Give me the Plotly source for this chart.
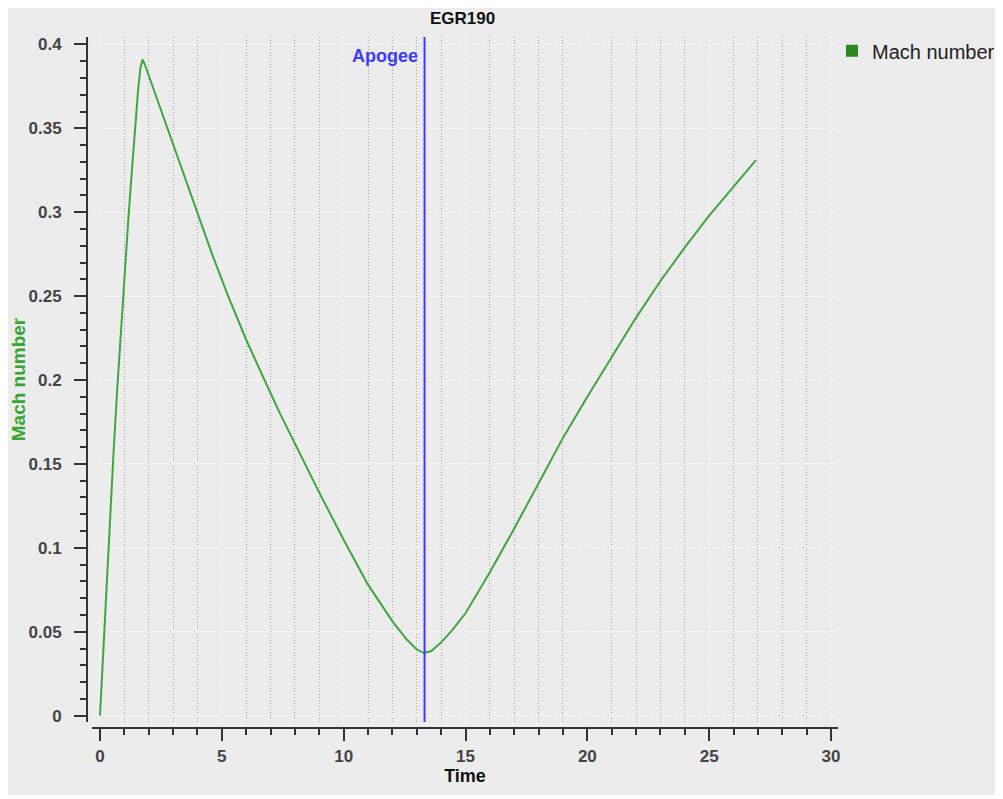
import plotly.graph_objects as go

# Mach number vs time
TIME = [0, 0.1, 0.25, 0.4, 0.55, 0.7, 0.85, 1.0, 1.15, 1.3, 1.45, 1.57, 1.66, 1.745, 1.84,
        2.3, 2.85, 3.4, 3.95, 4.6, 5.26, 6.0, 6.75, 7.39, 7.97, 8.48, 9.03, 10.01, 10.98,
        12.01, 12.58, 13.0, 13.3, 13.6, 13.99, 14.43, 15.0, 16.0, 17.0, 18.0, 19.0, 20.0,
        21.0, 22.0, 23.0, 24.0, 25.0, 26.0, 26.92]
MACH = [0, 0.029, 0.072, 0.114, 0.155, 0.193, 0.228, 0.261, 0.293, 0.323, 0.352, 0.374,
        0.386, 0.391, 0.388,
        0.369, 0.347, 0.324, 0.301, 0.275, 0.250, 0.224, 0.200, 0.180, 0.163, 0.148, 0.132,
        0.1045, 0.0785, 0.056, 0.0455, 0.0395, 0.0373, 0.0385, 0.0435, 0.0505, 0.061,
        0.0855, 0.1115, 0.1385, 0.1655, 0.190, 0.214, 0.2372, 0.259, 0.279, 0.298, 0.3155,
        0.331]

APOGEE_TIME = 13.32
TITLE = "EGR190"
SERIES_NAME = "Mach number"

FONT = "Liberation Sans, Arial, sans-serif"
BG = "#ececec"
AXIS_COL = "#333333"
LINE_GREEN = "#3fa63f"
DARK_GREEN = "#2b8a1e"

# page body has an 8px margin, so the figure is 8px smaller than the window
W, H = 995, 791

fig = go.Figure()

fig.add_trace(go.Scatter(x=TIME, y=MACH, mode="lines",
                         line=dict(color=LINE_GREEN, width=2),
                         showlegend=False))
# legend entry with the square swatch
fig.add_trace(go.Scatter(x=[None], y=[None], mode="markers", name=SERIES_NAME,
                         marker=dict(symbol="square", size=12, color=DARK_GREEN)))

fig.add_vline(x=APOGEE_TIME, line=dict(color="#3b3bff", width=2))
fig.add_annotation(x=APOGEE_TIME, xref="x", y=1, yref="y domain",
                   text="<b>Apogee</b>", showarrow=False,
                   xanchor="right", yanchor="top", xshift=-5, yshift=-7,
                   font=dict(family=FONT, size=18, color="#3b3bff"))

# plot frame: grey top/left, white bottom/right
frame = [((0, 1, 1, 1), "#c2c2c2"), ((0, 0, 0, 1), "#c2c2c2"),
         ((0, 1, 0, 0), "#ffffff"), ((1, 1, 0, 1), "#ffffff")]
for (x0, x1, y0, y1), col in frame:
    fig.add_shape(type="line", xref="x domain", yref="y domain",
                  x0=x0, x1=x1, y0=y0, y1=y1,
                  line=dict(color=col, width=2), layer="below")
# window body with thin white border around it
fig.add_shape(type="rect", xref="paper", yref="paper",
              x0=-0.1105, x1=1.2144, y0=-0.097, y1=1.0492,
              fillcolor=BG, line=dict(width=0), layer="below")

tick_font = dict(family=FONT, size=17, color="#444444", weight="bold")

fig.update_layout(
    width=W, height=H,
    paper_bgcolor="#ffffff", plot_bgcolor=BG,
    margin=dict(l=79, r=165, t=29, b=71, autoexpand=False),
    font=dict(family=FONT),
    title=dict(text="<b>" + TITLE + "</b>", x=0.5, xref="paper",
               y=1 - 10 / H, yref="container", yanchor="middle",
               font=dict(family=FONT, size=17, color="#111111")),
    legend=dict(x=0.992, y=1.0084, xanchor="left", yanchor="top",
                bgcolor="rgba(0,0,0,0)", font=dict(family=FONT, size=20, color="#222222")),
    xaxis=dict(domain=[0.00666, 1], range=[-0.328, 30.287], anchor="free", position=0,
               automargin=False, zeroline=False,
               showline=True, linecolor=AXIS_COL, linewidth=2,
               ticks="outside", ticklen=12, tickwidth=2, tickcolor=AXIS_COL,
               tick0=0, dtick=5, tickfont=tick_font, ticklabelstandoff=1,
               showgrid=True, gridcolor="#ffffff", griddash="1px,2px", gridwidth=1,
               minor=dict(dtick=1, tick0=0, ticks="outside", ticklen=6, tickwidth=1.5,
                          tickcolor=AXIS_COL, showgrid=True, gridcolor="#a9a9a9",
                          griddash="1px,2px", gridwidth=1),
               title=dict(text="<b>Time</b>", standoff=0,
                          font=dict(family=FONT, size=18, color="#111111"))),
    yaxis=dict(domain=[0.00868, 1], range=[-0.0038, 0.4044], anchor="free", position=0,
               automargin=False, zeroline=False,
               showline=True, linecolor=AXIS_COL, linewidth=2,
               ticks="outside", ticklen=12, tickwidth=2, tickcolor=AXIS_COL,
               tick0=0, dtick=0.05, tickfont=tick_font, ticklabelstandoff=9,
               showgrid=True, gridcolor="#ffffff", griddash="1px,2px", gridwidth=1,
               minor=dict(dtick=0.01, tick0=0, ticks="outside", ticklen=6, tickwidth=1.5,
                          tickcolor=AXIS_COL, showgrid=False),
               title=dict(text="<b>Mach number</b>", standoff=4,
                          font=dict(family=FONT, size=19, color="#37a52f"))),
    hovermode="closest",
)

fig.write_html("out.html")
